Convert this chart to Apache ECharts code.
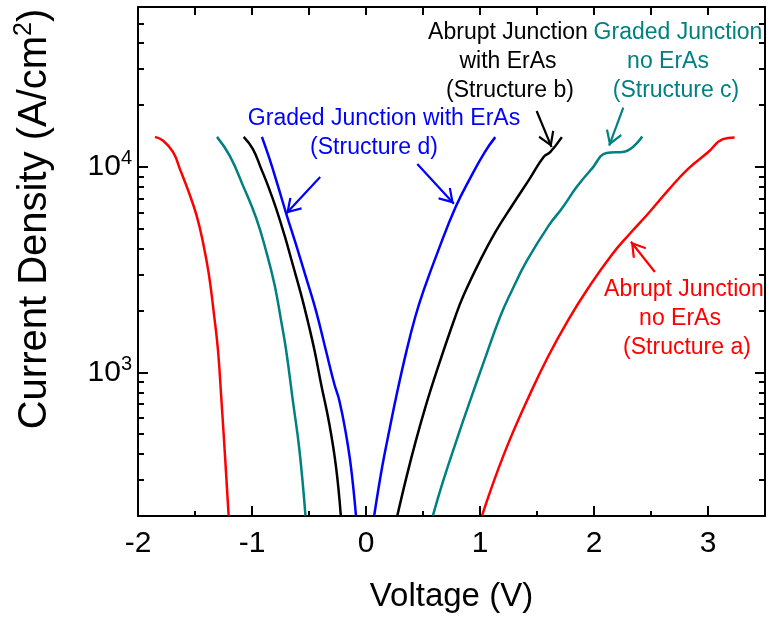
<!DOCTYPE html>
<html>
<head>
<meta charset="utf-8">
<script src="https://cdn.jsdelivr.net/npm/echarts@6/dist/echarts.min.js"></script>
<style>
  html, body { margin: 0; padding: 0; background: #fff; }
  #chart { width: 767px; height: 618px; }
</style>
</head>
<body>
<div id="chart"></div>
<script>
// J-V curves, [voltage (V), |current density| (A/cm2)]
var aLeft = [[-1.851,14000],[-1.779,13400],[-1.691,11780],[-1.633,9780],[-1.560,7680],[-1.487,5820],[-1.431,4320],
             [-1.378,2990],[-1.330,1845],[-1.298,1274],[-1.268,730],[-1.240,419],[-1.205,201]];
var aRight = [[1.018,201],[1.136,311],[1.260,468],[1.413,730],[1.593,1181],[1.776,1806],[1.951,2580],[2.155,3730],
              [2.316,4740],[2.476,5930],[2.650,7690],[2.825,9780],[3.000,11780],[3.131,13650],[3.233,13900]];
var bLeft = [[-1.073,14000],[-0.992,12210],[-0.919,9780],[-0.861,8130],[-0.788,6270],[-0.715,4650],[-0.642,3340],
             [-0.569,2390],[-0.511,1778],[-0.451,1274],[-0.394,878],[-0.322,562],[-0.263,347],[-0.221,201]];
var bRight = [[0.275,201],[0.356,311],[0.430,449],[0.521,678],[0.631,1057],[0.780,1845],[0.858,2385],[0.998,3475],
              [1.138,4850],[1.282,6490],[1.435,8750],[1.558,11180],[1.616,11810],[1.718,13960]];
var cLeft = [[-1.307,14000],[-1.196,11340],[-1.080,8130],[-0.962,5610],[-0.875,3870],[-0.802,2670],[-0.744,1778],
             [-0.700,1274],[-0.642,730],[-0.584,419],[-0.531,201]];
var cRight = [[0.587,201],[0.670,288],[0.784,449],[0.915,733],[1.038,1143],[1.173,1845],[1.278,2490],[1.409,3475],
              [1.601,5165],[1.718,6270],[1.849,8000],[1.980,9780],[2.111,11690],[2.266,11860],[2.423,14060]];
var dLeft = [[-0.913,14000],[-0.846,10930],[-0.774,8130],[-0.700,5930],[-0.613,4170],[-0.525,2880],[-0.438,1986],
             [-0.351,1274],[-0.278,878],[-0.234,730],[-0.176,503],[-0.132,347],[-0.088,201]];
var dRight = [[0.072,201],[0.142,347],[0.198,501],[0.277,818],[0.356,1276],[0.430,1845],[0.504,2490],[0.631,3880],
              [0.788,6410],[0.920,8950],[1.042,11810],[1.134,13960]];

// annotation arrows: [from, to] in data coords
var arrowsA = [[[2.534,3080],[2.324,4320]]];
var arrowsB = [[[1.497,18700],[1.628,12490]]];
var arrowsC = [[[2.257,19410],[2.133,12680]]];
var arrowsD = [[[-0.402,8920],[-0.700,5930]],[[0.450,10330],[0.771,6620]]];

var xMajor = [-2, -1, 0, 1, 2, 3];
var xMinor = [-1.5, -0.5, 0.5, 1.5, 2.5, 3.5];
var yMajor = [1000, 10000];
var yMinor = [200,300,400,500,600,700,800,900,2000,3000,4000,5000,6000,7000,8000,9000,20000,30000,40000,50000,60000];

var RED = '#ff0000', BLACK = '#000000', TEAL = '#008080', BLUE = '#0000ff';
var FONT = 'Liberation Sans, Arial, sans-serif';
var chevron = 'path://M0,-15L0,-15ZM0,0L8.5,13.6L6.8,15L0,4.2L-6.8,15L-8.5,13.6Z';

function arrowLines(list) {
    return list.map(function (a) {
        return [{ coord: a[0], symbol: 'none' }, { coord: a[1], symbol: chevron, symbolSize: [17, 30] }];
    });
}

function curve(data, color, arrows) {
    var s = {
        type: 'line',
        data: data,
        xAxisIndex: 0,
        yAxisIndex: 0,
        showSymbol: false,
        smooth: 0.45,
        lineStyle: { color: color, width: 2.5 },
        itemStyle: { color: color },
        silent: true,
        clip: true
    };
    if (arrows) {
        s.markLine = {
            silent: true,
            animation: false,
            label: { show: false },
            lineStyle: { color: color, width: 2.2, type: 'solid' },
            itemStyle: { color: color },
            emphasis: { disabled: true },
            data: arrowLines(arrows)
        };
    }
    return s;
}

var axisLine = { show: true, onZero: false, lineStyle: { color: '#000', width: 2 } };
var noLine = { show: false, onZero: false };

function xAx(pos, ticks, len, labels, line) {
    return {
        type: 'value', position: pos, min: -2, max: 3.5,
        axisLine: line ? axisLine : noLine,
        splitLine: { show: false },
        axisTick: { show: true, inside: true, length: len, customValues: ticks,
                    lineStyle: { color: '#000', width: 2 } },
        axisLabel: labels ? { show: true, customValues: labels, fontSize: 30, fontFamily: FONT, color: '#000', margin: 13 }
                          : { show: false }
    };
}
function yAx(pos, ticks, len, labels, line) {
    return {
        type: 'log', logBase: 10, position: pos, min: 200, max: 60000,
        axisLine: line ? axisLine : noLine,
        splitLine: { show: false },
        axisTick: { show: true, inside: true, length: len, customValues: ticks,
                    lineStyle: { color: '#000', width: 2 } },
        axisLabel: labels ? {
            show: true, customValues: labels, margin: 6, color: '#000', fontSize: 30, fontFamily: FONT,
            formatter: function (v) { return '10{sup|' + Math.round(Math.log10(v)) + '}'; },
            rich: { sup: { fontSize: 20, fontFamily: FONT, color: '#000', verticalAlign: 'top', lineHeight: 36 } }
        } : { show: false }
    };
}

var xBottom = xAx('bottom', xMajor, 10, xMajor, true);
xBottom.name = 'Voltage (V)';
xBottom.nameLocation = 'middle';
xBottom.nameGap = 64;
xBottom.nameTextStyle = { fontSize: 33, fontFamily: FONT, color: '#000' };

var chart = echarts.init(document.getElementById('chart'), null, { renderer: 'canvas' });

function txt(str, x, y, color) {
    return { type: 'text', x: x, y: y, silent: true,
             style: { text: str, fill: color, font: '23px ' + FONT, align: 'center', verticalAlign: 'middle' } };
}

chart.setOption({
    animation: false,
    backgroundColor: '#fff',
    grid: { left: 138, right: 2, top: 7, bottom: 99, containLabel: false },
    xAxis: [
        xBottom,
        xAx('bottom', xMinor, 5, null, false),
        xAx('top', xMajor.concat(xMinor), 8, null, true)
    ],
    yAxis: [
        yAx('left', yMajor, 10, yMajor, true),
        yAx('left', yMinor, 6, null, false),
        yAx('right', yMajor, 10, null, true),
        yAx('right', yMinor, 6, null, false)
    ],
    series: [
        curve(aLeft, RED), curve(aRight, RED, arrowsA),
        curve(bLeft, BLACK), curve(bRight, BLACK, arrowsB),
        curve(cLeft, TEAL), curve(cRight, TEAL, arrowsC),
        curve(dLeft, BLUE), curve(dRight, BLUE, arrowsD)
    ],
    graphic: [
        {
            type: 'text', x: 35, y: 219, rotation: Math.PI / 2, silent: true,
            style: {
                text: 'Current Density (A/cm{sup|2})', fill: '#000', font: '40px ' + FONT,
                align: 'center', verticalAlign: 'middle',
                rich: { sup: { fontSize: 25, fontFamily: FONT, fill: '#000', verticalAlign: 'top', lineHeight: 47 } }
            }
        },
        txt('Abrupt Junction', 508, 33, BLACK),
        txt('with ErAs', 508, 62, BLACK),
        txt('(Structure b)', 510, 91, BLACK),
        txt('Graded Junction', 678, 33, TEAL),
        txt('no ErAs', 668, 62, TEAL),
        txt('(Structure c)', 676, 91, TEAL),
        txt('Graded Junction with ErAs', 384, 119, BLUE),
        txt('(Structure d)', 374, 148, BLUE),
        txt('Abrupt Junction', 684, 290, RED),
        txt('no ErAs', 680, 319, RED),
        txt('(Structure a)', 687, 348, RED)
    ]
});
</script>
</body>
</html>
